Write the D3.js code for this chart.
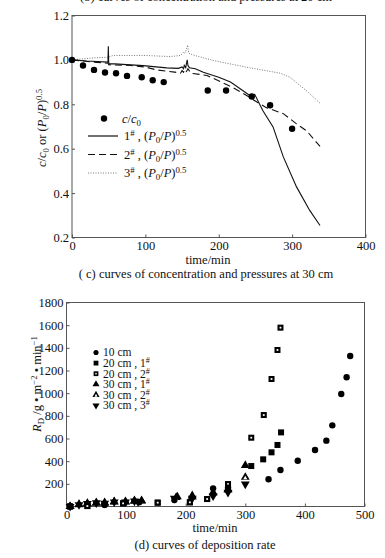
<!DOCTYPE html>
<html lang="en">
<head>
<meta charset="UTF-8">
<title>curves</title>
<script src="https://d3js.org/d3.v7.min.js"></script>
<style>
  body { margin: 0; background: #fff; }
</style>
</head>
<body>
<script>
// ---- top chart (c) data ----
var concTime = [0, 15, 30, 45, 60, 75, 95, 110, 125, 185, 210, 245, 270, 300];
var concVal  = [1.0, 0.975, 0.955, 0.943, 0.94, 0.928, 0.922, 0.908, 0.9, 0.862, 0.862, 0.835, 0.796, 0.69];

var p1Time = [0, 20, 49, 49.5, 50, 50.5, 58, 97, 129, 145, 150, 152, 153, 155, 156, 157, 158, 160, 168, 179, 200, 216, 238, 243, 249, 260, 274, 288, 306, 324, 338];
var p1Val  = [1.0, 0.995, 0.99, 1.061, 0.99, 0.982, 0.982, 0.974, 0.964, 0.962, 0.968, 0.96, 0.975, 0.965, 0.985, 1.0, 0.975, 0.965, 0.96, 0.944, 0.922, 0.9, 0.85, 0.838, 0.845, 0.772, 0.698, 0.563, 0.428, 0.322, 0.254];

var p2Time = [0, 30, 49, 50, 80, 100, 115, 140, 148, 150, 152, 154, 156, 158, 162, 184, 220, 238, 252, 265, 288, 306, 320, 338];
var p2Val  = [1.0, 0.99, 0.985, 0.978, 0.975, 0.968, 0.955, 0.945, 0.94, 0.952, 0.944, 0.958, 0.948, 0.96, 0.94, 0.93, 0.874, 0.84, 0.81, 0.785, 0.758, 0.712, 0.68, 0.61];

var p3Time = [0, 29, 49, 56, 100, 134, 148, 152, 154, 156, 157.7, 159, 165, 193, 238, 284, 297, 322, 338];
var p3Val  = [1.0, 1.009, 1.012, 1.02, 1.02, 1.015, 1.02, 1.035, 1.03, 1.05, 1.067, 1.03, 1.022, 0.997, 0.967, 0.94, 0.922, 0.854, 0.805];

var topYTicks = [0.2, 0.4, 0.6, 0.8, 1.0, 1.2];
var topXTicks = [0, 100, 200, 300, 400];

// ---- bottom chart (d) data ----
var cm10Time = [6, 64, 122, 181, 246, 271, 339, 359, 388, 417, 436, 446, 461, 470, 476];
var cm10Val  = [0, 14, 38, 57, 160, 166, 240, 322, 404, 498, 581, 716, 993, 1140, 1328];

var cm20aTime = [6, 35, 95, 153, 207, 236, 271, 310, 330, 344, 354, 360];
var cm20aVal  = [0, 4, 28, 34, 37, 66, 190, 357, 416, 478, 543, 654];

var cm20bTime = [6, 35, 95, 153, 207, 236, 271, 310, 331, 344, 354, 359];
var cm20bVal  = [0, 4, 28, 34, 37, 66, 198, 607, 807, 1125, 1381, 1578];

var cm30aTime = [6, 21, 35, 50, 64, 80, 99, 114, 126, 186, 211, 246, 271, 300];
var cm30aVal  = [0, 19, 28, 34, 34, 43, 43, 51, 51, 86, 95, 125, 150, 363];

var cm30bTime = [6, 21, 35, 50, 64, 80, 99, 114, 126, 184, 211, 246, 271, 300];
var cm30bVal  = [0, 16, 25, 30, 30, 40, 40, 47, 48, 80, 85, 120, 145, 258];

var cm30cTime = [6, 21, 35, 50, 64, 80, 99, 114, 120, 181, 211, 246, 271, 300];
var cm30cVal  = [0, 16, 26, 32, 28, 40, 40, 47, 43, 72, 72, 93, 125, 198];

var botYTicks = [200, 400, 600, 800, 1000, 1200, 1400, 1600, 1800];
var botXTicks = [0, 100, 200, 300, 400, 500];

var FONT = "'Times New Roman', 'Liberation Serif', 'DejaVu Serif', serif";

var svg = d3.select("body").append("svg")
  .attr("width", 385)
  .attr("height", 558)
  .style("font-family", FONT);

function txt(x, y, size) {
  return svg.append("text").attr("x", x).attr("y", y)
    .attr("font-family", FONT).attr("font-size", size).attr("fill", "#111");
}

// write text made of pieces: italic, subscript, superscript
function rich(sel, parts) {
  var shift = 0;
  parts.forEach(function(p) {
    var t = sel.append("tspan").text(p[0]);
    var want = 0;
    if (p[1] == "sub") want = 3;
    if (p[1] == "sup") want = -4;
    if (want != shift) { t.attr("dy", want - shift); shift = want; }
    if (p[1] == "sub" || p[1] == "sup") t.attr("font-size", "70%");
    if (p[1] == "i") t.style("font-style", "italic");
  });
}

function frame(x, y) {
  var x0 = x.range()[0], x1 = x.range()[1], y0 = y.range()[0], y1 = y.range()[1];
  svg.append("rect")
    .attr("x", x0).attr("y", y1)
    .attr("width", x1 - x0).attr("height", y0 - y1)
    .attr("fill", "none").attr("stroke", "#555").attr("stroke-width", 1);
}

function axes(x, y, xt, yt, yfmt) {
  var gx = svg.append("g").attr("transform", "translate(0," + y.range()[0] + ")")
    .call(d3.axisBottom(x).tickValues(xt).tickSize(-3).tickPadding(4).tickFormat(d3.format("d")));
  var gy = svg.append("g").attr("transform", "translate(" + x.range()[0] + ",0)")
    .call(d3.axisLeft(y).tickValues(yt).tickSize(-3).tickPadding(3).tickFormat(yfmt));
  [gx, gy].forEach(function(g) {
    g.attr("font-family", FONT);
    g.select(".domain").remove();
    g.selectAll("line").attr("stroke", "#555");
    g.selectAll("text").attr("font-size", 12.5).attr("font-family", FONT).attr("fill", "#111");
  });
}

// cut-off caption of the chart above
txt(206, 1, 12.5).attr("text-anchor", "middle")
  .text("(b) curves of concentration and pressures at 20 cm");

// ================= top chart =================
var x1 = d3.scaleLinear().domain([0, 400]).range([72, 365.5]);
var y1 = d3.scaleLinear().domain([0.2, 1.2]).range([237.5, 15.5]);

frame(x1, y1);
axes(x1, y1, topXTicks, topYTicks, d3.format(".1f"));

var line1 = d3.line().x(function(d) { return x1(d[0]); }).y(function(d) { return y1(d[1]); });

svg.append("path").datum(d3.zip(p3Time, p3Val)).attr("d", line1)
  .attr("fill", "none").attr("stroke", "#777").attr("stroke-width", 1).attr("stroke-dasharray", "1,1.5");
svg.append("path").datum(d3.zip(p2Time, p2Val)).attr("d", line1)
  .attr("fill", "none").attr("stroke", "#111").attr("stroke-width", 1.1).attr("stroke-dasharray", "7,4");
svg.append("path").datum(d3.zip(p1Time, p1Val)).attr("d", line1)
  .attr("fill", "none").attr("stroke", "#111").attr("stroke-width", 1.1);

svg.selectAll(".conc").data(d3.zip(concTime, concVal)).enter()
  .append("circle").attr("class", "conc")
  .attr("cx", function(d) { return x1(d[0]); })
  .attr("cy", function(d) { return y1(d[1]); })
  .attr("r", 3.2).attr("fill", "#000");

// top legend
svg.append("circle").attr("cx", 104).attr("cy", 118.5).attr("r", 3.2).attr("fill", "#000");
rich(txt(122, 122.5, 12.5), [["c", "i"], ["/"], ["c", "i"], ["0", "sub"]]);
var legRows = [
  { y: 136, dash: null, col: "#111", num: "1" },
  { y: 154.5, dash: "7,4", col: "#111", num: "2" },
  { y: 173, dash: "1,1.5", col: "#777", num: "3" }
];
legRows.forEach(function(r) {
  svg.append("line").attr("x1", 88).attr("x2", 118).attr("y1", r.y).attr("y2", r.y)
    .attr("stroke", r.col).attr("stroke-width", r.dash == "1,1.5" ? 1 : 1.2)
    .attr("stroke-dasharray", r.dash);
  rich(txt(124, r.y + 4, 12.5),
    [[r.num], ["#", "sup"], [" , ("], ["P", "i"], ["0", "sub"], ["/"], ["P", "i"], [")"], ["0.5", "sup"]]);
});

// top axis titles
rich(txt(0, 0, 12.5).attr("transform", "translate(46,128) rotate(-90)").attr("text-anchor", "middle"),
  [["c", "i"], ["/"], ["c", "i"], ["0", "sub"], [" or ("], ["P", "i"], ["0", "sub"], ["/"], ["P", "i"], [")"], ["0.5", "sup"]]);
txt(208, 264, 12.5).attr("text-anchor", "middle").text("time/min");
txt(206, 277.5, 12.5).attr("text-anchor", "middle").text("( c) curves of concentration and pressures at 30 cm");

// ================= bottom chart =================
var x2 = d3.scaleLinear().domain([0, 500]).range([66.5, 364.5]);
var y2 = d3.scaleLinear().domain([0, 1800]).range([506.5, 302.5]);

frame(x2, y2);
axes(x2, y2, botXTicks, botYTicks, d3.format("d"));

function sym(type, size) {
  return d3.symbol().type(type).size(size)();
}

function drawMark(g, kind, s) {
  if (kind == "circle") {
    g.append("circle").attr("r", 3.2 * s).attr("fill", "#000");
  } else if (kind == "square") {
    g.append("rect").attr("x", -3 * s).attr("y", -3 * s).attr("width", 6 * s).attr("height", 6 * s).attr("fill", "#000");
  } else if (kind == "osquare") {
    g.append("rect").attr("x", -3 * s).attr("y", -3 * s).attr("width", 6 * s).attr("height", 6 * s).attr("fill", "#000");
    g.append("rect").attr("x", -0.9 * s).attr("y", -0.9 * s).attr("width", 1.8 * s).attr("height", 1.8 * s).attr("fill", "#fff");
  } else if (kind == "tri") {
    g.append("path").attr("d", sym(d3.symbolTriangle, 34 * s * s)).attr("fill", "#000");
  } else if (kind == "otri") {
    g.append("path").attr("d", sym(d3.symbolTriangle, 34 * s * s)).attr("fill", "#000");
    g.append("path").attr("d", sym(d3.symbolTriangle, 7 * s * s)).attr("fill", "#fff").attr("transform", "translate(0,0.8)");
  } else if (kind == "dtri") {
    g.append("path").attr("d", sym(d3.symbolTriangle, 34 * s * s)).attr("fill", "#000").attr("transform", "rotate(180)");
  }
}

function drawSeries(times, vals, kind, cls) {
  var g = svg.selectAll("." + cls).data(d3.zip(times, vals)).enter().append("g").attr("class", cls)
    .attr("transform", function(d) { return "translate(" + x2(d[0]) + "," + y2(d[1]) + ")"; });
  drawMark(g, kind, 1);
}

drawSeries(cm30bTime, cm30bVal, "otri", "s30b");
drawSeries(cm30aTime, cm30aVal, "tri", "s30a");
drawSeries(cm30cTime, cm30cVal, "dtri", "s30c");
drawSeries(cm20aTime, cm20aVal, "square", "s20a");
drawSeries(cm20bTime, cm20bVal, "osquare", "s20b");
drawSeries(cm10Time, cm10Val, "circle", "s10");

// bottom legend
var legItems = [
  { kind: "circle", parts: [["10 cm"]] },
  { kind: "square", parts: [["20 cm , 1"], ["#", "sup"]] },
  { kind: "osquare", parts: [["20 cm , 2"], ["#", "sup"]] },
  { kind: "tri", parts: [["30 cm , 1"], ["#", "sup"]] },
  { kind: "otri", parts: [["30 cm , 2"], ["#", "sup"]] },
  { kind: "dtri", parts: [["30 cm , 3"], ["#", "sup"]] }
];
legItems.forEach(function(it, i) {
  var cy = 352.5 + i * 10.6;
  var g = svg.append("g").attr("transform", "translate(96," + cy + ")");
  drawMark(g, it.kind, 0.8);
  rich(txt(103, cy + 3.8, 11.5), it.parts);
});

// bottom axis titles
rich(txt(0, 0, 12.5).attr("transform", "translate(41,384) rotate(-90)").attr("text-anchor", "middle"),
  [["R", "i"], ["D", "sub"], [" /g \u2022 m"], ["\u22122", "sup"], [" \u2022 min"], ["\u22121", "sup"]]);
txt(215, 532, 12.5).attr("text-anchor", "middle").text("time/min");
txt(205, 549, 12.5).attr("text-anchor", "middle").text("(d) curves of deposition rate");
</script>
</body>
</html>
